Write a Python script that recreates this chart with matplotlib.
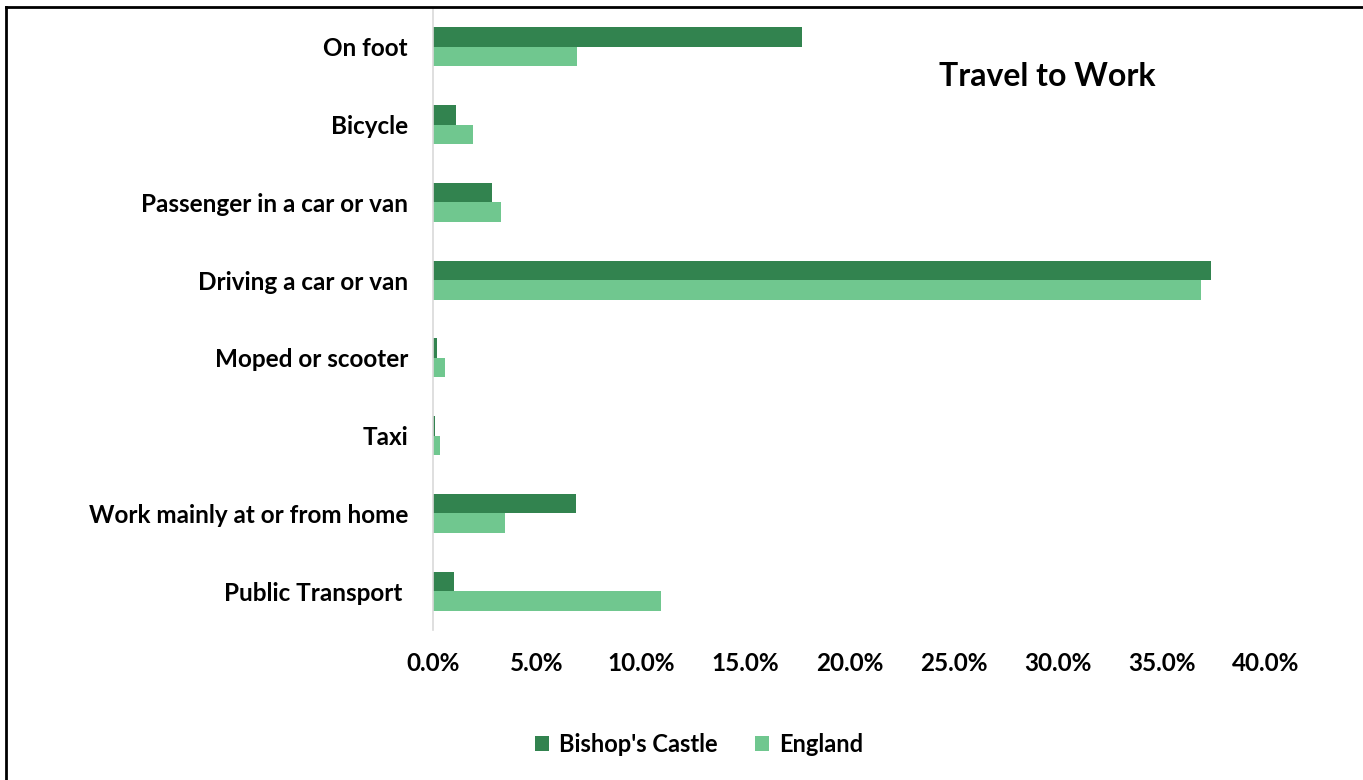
import matplotlib
matplotlib.use("Agg")
import matplotlib.pyplot as plt
from matplotlib.lines import Line2D
from matplotlib.ticker import FuncFormatter
import numpy as np

categories = ["On foot", "Bicycle", "Passenger in a car or van", "Driving a car or van",
              "Moped or scooter", "Taxi", "Work mainly at or from home", "Public Transport "]
bishops_castle = [17.7, 1.1, 2.85, 37.35, 0.18, 0.1, 6.85, 1.03]
england = [6.9, 1.92, 3.25, 36.9, 0.56, 0.34, 3.47, 10.93]
series_names = ["Bishop's Castle", "England"]

DARK = "#32834F"
LIGHT = "#70C78F"

plt.rcParams["font.family"] = ["Lato", "DejaVu Sans"]
plt.rcParams["font.weight"] = "bold"

fig = plt.figure(figsize=(13.63, 7.8), dpi=100)
ax = fig.add_axes([433 / 1363, 1 - 630 / 780, (1266 - 433) / 1363, 622 / 780])

y = np.arange(len(categories))
h = 0.25
ax.barh(y - h / 2, bishops_castle, height=h, color=DARK, label=series_names[0])
ax.barh(y + h / 2, england, height=h, color=LIGHT, label=series_names[1])

ax.set_ylim(len(categories) - 0.5, -0.5)
ax.set_xlim(0, 40)
ax.set_xticks(np.arange(0, 41, 5))
ax.xaxis.set_major_formatter(FuncFormatter(lambda v, p: f"{v:.1f}%"))
ax.set_yticks(y)
ax.set_yticklabels(categories)

for s in ["top", "right", "bottom"]:
    ax.spines[s].set_visible(False)
ax.spines["left"].set_color("#D9D9D9")
ax.spines["left"].set_linewidth(1.2)
ax.tick_params(axis="y", length=0, pad=18, labelsize=17.5)
ax.tick_params(axis="x", length=0, pad=16, labelsize=17.5)
for lbl in ax.get_xticklabels() + ax.get_yticklabels():
    lbl.set_fontweight("bold")

fig.text(1047 / 1363, 1 - 77 / 780, "Travel to Work", ha="center", va="center",
         fontsize=23, fontweight="bold")

leg = fig.legend(loc="center", bbox_to_anchor=(699 / 1363, 1 - 744 / 780), ncol=2,
                 frameon=False, fontsize=17, handlelength=0.6, handleheight=0.6,
                 handletextpad=0.4, columnspacing=1.6)
for t in leg.get_texts():
    t.set_fontweight("bold")

# outer border (top and left edges visible in the screenshot)
fig.add_artist(Line2D([6 / 1363, 1], [1 - 7 / 780, 1 - 7 / 780], color="black", lw=2,
                      transform=fig.transFigure))
fig.add_artist(Line2D([6 / 1363, 6 / 1363], [0, 1 - 7 / 780], color="black", lw=2,
                      transform=fig.transFigure))

fig.savefig("out.png", dpi=100)
